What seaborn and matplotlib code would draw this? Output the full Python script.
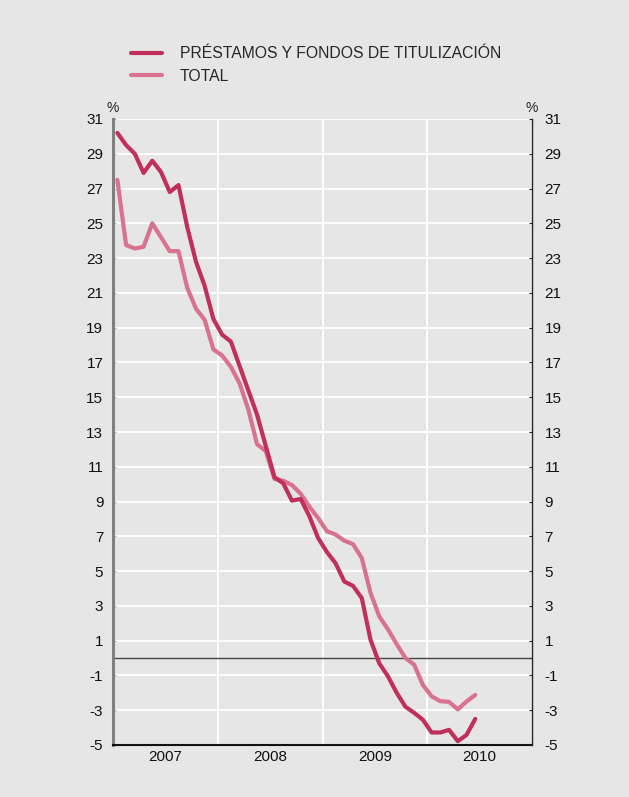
import numpy as np
import pandas as pd
import matplotlib.pyplot as plt
import matplotlib.transforms as mtransforms
import seaborn as sns

# ===============================
# Data (monthly, Jan 2007 - Jun 2010)
# ===============================

prestamos = [30.2, 29.5, 29.0, 27.9, 28.6, 27.95, 26.8, 27.2, 24.8, 22.8, 21.4, 19.5,
             18.6, 18.2, 16.8, 15.4, 14.0, 12.2, 10.4, 10.05, 9.05, 9.15, 8.15, 6.9,
             6.1, 5.45, 4.4, 4.15, 3.45, 1.05, -0.3, -1.05, -2.0, -2.8, -3.15, -3.55,
             -4.28, -4.28, -4.13, -4.78, -4.42, -3.5]

total = [27.5, 23.75, 23.55, 23.65, 25.0, 24.2, 23.4, 23.4, 21.3, 20.1, 19.45, 17.75,
         17.4, 16.75, 15.8, 14.3, 12.3, 11.9, 10.3, 10.2, 9.95, 9.45, 8.7, 8.05,
         7.3, 7.1, 6.75, 6.55, 5.75, 3.75, 2.4, 1.65, 0.8, 0.0, -0.38, -1.55,
         -2.2, -2.48, -2.52, -2.95, -2.5, -2.12]

years = [2007, 2008, 2009, 2010]
yticks = list(range(-5, 32, 2))

serie_names = ["PRÉSTAMOS Y FONDOS DE TITULIZACIÓN", "TOTAL"]
colors = ["#c0305a", "#d8728f"]

months = np.arange(len(prestamos))
x_pos = 2007 + (months + 0.5) / 12

df = pd.DataFrame({
    "x": np.concatenate([x_pos, x_pos]),
    "value": prestamos + total,
    "serie": [serie_names[0]] * len(prestamos) + [serie_names[1]] * len(total),
})

# ===============================
# Style
# ===============================

bg = "#e6e6e6"
sns.set_style("white", {"axes.facecolor": bg, "figure.facecolor": bg})
plt.rcParams["font.family"] = ["Liberation Sans", "DejaVu Sans"]
plt.rcParams["axes.unicode_minus"] = False

fig = plt.figure(figsize=(6.29, 7.97), dpi=100)
ax = fig.add_axes([113 / 629, 1 - 745 / 797, 419 / 629, 626 / 797])

sns.lineplot(data=df, x="x", y="value", hue="serie", hue_order=serie_names[::-1],
             palette={serie_names[0]: colors[0], serie_names[1]: colors[1]},
             linewidth=3, ax=ax, legend=False)

ax.set_xlim(2007, 2011)
ax.set_ylim(-5, 31)
ax.set_xlabel("")
ax.set_ylabel("")

# grid
ax.set_yticks(yticks)
ax.set_xticks([2007, 2008, 2009, 2010, 2011])
ax.set_xticks(np.arange(2007, 2011.01, 0.25), minor=True)
ax.set_xticklabels([])
ax.grid(True, which="major", color="white", linewidth=1.3)
ax.set_axisbelow(True)
ax.axhline(0, color="#444444", linewidth=1, zorder=1.5)

for s in ["top", "right"]:
    ax.spines[s].set_visible(False)
ax.spines["left"].set_color("#808080")
ax.spines["left"].set_linewidth(2.2)
ax.spines["bottom"].set_color("#111111")
ax.spines["bottom"].set_linewidth(1.5)

ax.tick_params(axis="y", direction="in", length=2.5, color="#b0b0b0", pad=7,
               labelsize=11, labelcolor="#111111")
ax.tick_params(axis="x", which="major", direction="in", length=5, width=1, color="#111111")
ax.tick_params(axis="x", which="minor", direction="in", length=2.5, width=1, color="#111111")

# right axis
ax2 = ax.twinx()
ax2.set_ylim(-5, 31)
ax2.set_yticks(yticks)
for s in ["top", "left", "bottom"]:
    ax2.spines[s].set_visible(False)
ax2.spines["right"].set_color("#222222")
ax2.spines["right"].set_linewidth(1)
ax2.tick_params(axis="y", direction="in", length=2.5, color="#222222", pad=9,
                labelsize=11, labelcolor="#111111")
ax2.grid(False)

# year labels
trans = mtransforms.blended_transform_factory(ax.transData, ax.transAxes)
for yr in years:
    ax.text(yr + 0.5, -0.019, str(yr), transform=trans, ha="center", va="center",
            fontsize=11, color="#111111")

# % labels
ax.text(0, 1.018, "%", transform=ax.transAxes, ha="center", va="center", fontsize=10)
ax.text(1, 1.018, "%", transform=ax.transAxes, ha="center", va="center", fontsize=10)

# legend
handles = [plt.Line2D([], [], color=c, linewidth=3) for c in colors]
fig.legend(handles, serie_names, loc="upper left",
           bbox_to_anchor=(131 / 629, 1 - 46 / 797), frameon=False,
           fontsize=11.3, handlelength=2.0, handletextpad=1.1, labelspacing=0.5,
           borderpad=0, borderaxespad=0)

plt.savefig("out.png", dpi=100, facecolor=bg)
